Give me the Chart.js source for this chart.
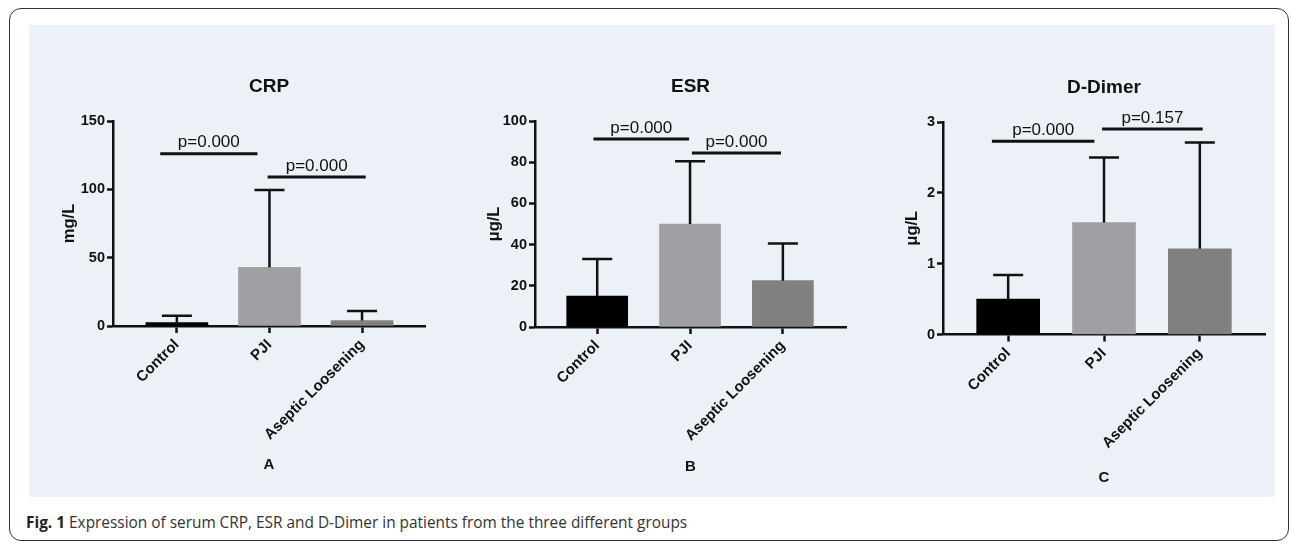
<!DOCTYPE html>
<html>
<head>
<meta charset="utf-8">
<script src="https://cdn.jsdelivr.net/npm/chart.js@4.4.1/dist/chart.umd.min.js"></script>
<style>
  body { margin: 0; background: #fff; width: 1292px; height: 544px; position: relative; overflow: hidden; }
  #frame { position: absolute; left: 9px; top: 8px; width: 1278px; height: 531px; border: 1.5px solid #333; border-radius: 12px; }
  #panel { position: absolute; left: 29px; top: 25px; width: 1246px; height: 472px; background: #ecf1f8; }
  canvas { position: absolute; top: 25px; }
  #cap { position: absolute; left: 26px; top: 512px; font: 15.4px "Open Sans", sans-serif; color: #333; white-space: nowrap; }
  #cap b { color: #222; }
</style>
</head>
<body>
<div id="frame"></div>
<div id="panel"></div>
<canvas id="crp" width="400" height="472" style="left:40px"></canvas>
<canvas id="esr" width="400" height="472" style="left:460px"></canvas>
<canvas id="dd" width="405" height="472" style="left:870px"></canvas>
<div id="cap"><b>Fig. 1</b> Expression of serum CRP, ESR and D-Dimer in patients from the three different groups</div>
<script>
// groups and colours
const groups = ['Control', 'PJI', 'Aseptic Loosening'];
const barColors = ['#000000', '#a09fa4', '#808080'];

// CRP (mg/L)
const crpMean = [2.5, 43, 4];
const crpSD = [5, 56.5, 7];
const crpTicks = [0, 50, 100, 150];
const crpPText = ['p=0.000', 'p=0.000'];
const crpPLevel = [126, 109];
const crpPSpan = [[-0.18, 0.87], [0.98, 2.04]];

// ESR
const esrMean = [15, 50, 22.5];
const esrSD = [18, 30.5, 18];
const esrTicks = [0, 20, 40, 60, 80, 100];
const esrPText = ['p=0.000', 'p=0.000'];
const esrPLevel = [91.3, 84.5];
const esrPSpan = [[-0.04, 0.99], [1.02, 1.98]];

// D-Dimer
const ddMean = [0.5, 1.58, 1.21];
const ddSD = [0.34, 0.92, 1.5];
const ddTicks = [0, 1, 2, 3];
const ddPText = ['p=0.000', 'p=0.157'];
const ddPLevel = [2.73, 2.9];
const ddPSpan = [[-0.17, 0.9], [0.98, 2.03]];

const ink = '#111';
Chart.defaults.font.family = '"Liberation Sans", Arial, sans-serif';

function makeChart(id, o) {
  // SD whiskers and the p-value brackets
  const extras = {
    id: 'extras',
    afterDatasetsDraw(chart) {
      const ctx = chart.ctx, x = chart.scales.x, y = chart.scales.y;
      ctx.save();
      ctx.strokeStyle = ink;
      ctx.lineWidth = 2.5;
      chart.getDatasetMeta(0).data.forEach((bar, i) => {
        const top = y.getPixelForValue(o.mean[i] + o.sd[i]);
        ctx.beginPath();
        ctx.moveTo(bar.x, bar.y);
        ctx.lineTo(bar.x, top);
        ctx.moveTo(bar.x - 15, top);
        ctx.lineTo(bar.x + 15, top);
        ctx.stroke();
      });
      ctx.lineWidth = 3;
      ctx.fillStyle = ink;
      ctx.font = '17px "Liberation Sans", Arial';
      ctx.textAlign = 'center';
      ctx.textBaseline = 'middle';
      o.pSpan.forEach((s, i) => {
        const py = y.getPixelForValue(o.pLevel[i]);
        const x1 = x.getPixelForValue(s[0]), x2 = x.getPixelForValue(s[1]);
        ctx.beginPath();
        ctx.moveTo(x1, py);
        ctx.lineTo(x2, py);
        ctx.stroke();
        ctx.fillText(o.pText[i], (x1 + x2) / 2, py - 11);
      });
      ctx.restore();
    }
  };

  return new Chart(document.getElementById(id), {
    type: 'bar',
    data: {
      datasets: [{
        data: o.mean.map((v, i) => ({ x: i, y: v })),
        backgroundColor: barColors,
        borderWidth: 0,
        barThickness: o.barW
      }]
    },
    options: {
      responsive: false,
      animation: false,
      devicePixelRatio: 1,
      layout: { padding: { left: 0, right: o.padR, top: 0, bottom: 0 } },
      plugins: {
        legend: { display: false },
        tooltip: { enabled: false },
        title: {
          display: true, text: o.title, fullSize: false, color: ink,
          font: { size: 19, weight: 'bold' },
          padding: { top: o.titleTop, bottom: o.chartTop - o.titleTop - 22.8 }
        }
      },
      scales: {
        x: {
          type: 'linear', min: o.xMin, max: o.xMax, offset: false,
          afterBuildTicks: s => { s.ticks = groups.map((g, i) => ({ value: i })); },
          afterFit: s => { s.height = o.xH; },
          ticks: {
            callback: v => groups[v], autoSkip: false, minRotation: 45, maxRotation: 45,
            color: ink, font: { size: 15, weight: 'bold' }, padding: 3
          },
          grid: { offset: false, drawOnChartArea: false, tickLength: 7, tickWidth: 2.5, tickColor: ink },
          border: { color: ink, width: 2.5 },
          title: {
            display: true, text: o.letter, color: ink,
            font: { size: 15, weight: 'bold' }, padding: { top: 0, bottom: o.letterPad }
          }
        },
        y: {
          min: 0, max: o.ticks[o.ticks.length - 1],
          afterBuildTicks: s => { s.ticks = o.ticks.map(v => ({ value: v })); },
          afterFit: s => { s.width = o.yW; },
          ticks: { color: ink, font: { size: 14.5, weight: 'bold' }, padding: 2 },
          grid: { drawOnChartArea: false, tickLength: 6, tickWidth: 2.5, tickColor: ink },
          border: { color: ink, width: 2.5 },
          title: {
            display: true, text: o.unit, color: ink,
            font: { size: 16.5, weight: 'bold' }, padding: { top: o.unitPad, bottom: 0 }
          }
        }
      }
    },
    plugins: [extras]
  });
}

makeChart('crp', {
  title: 'CRP', unit: 'mg/L', letter: 'A',
  mean: crpMean, sd: crpSD, ticks: crpTicks,
  pText: crpPText, pLevel: crpPLevel, pSpan: crpPSpan,
  xMin: -0.69, xMax: 2.68, barW: 62,
  yW: 73, padR: 15, chartTop: 96, xH: 171, titleTop: 50.6, unitPad: 20, letterPad: 23
});

makeChart('esr', {
  title: 'ESR', unit: 'μg/L', letter: 'B',
  mean: esrMean, sd: esrSD, ticks: esrTicks,
  pText: esrPText, pLevel: esrPLevel, pSpan: esrPSpan,
  xMin: -0.67, xMax: 2.68, barW: 61,
  yW: 75, padR: 14, chartTop: 96, xH: 170, titleTop: 50.6, unitPad: 25, letterPad: 21
});

makeChart('dd', {
  title: 'D-Dimer', unit: 'μg/L', letter: 'C',
  mean: ddMean, sd: ddSD, ticks: ddTicks,
  pText: ddPText, pLevel: ddPLevel, pSpan: ddPSpan,
  xMin: -0.68, xMax: 2.68, barW: 63,
  yW: 73, padR: 10, chartTop: 97, xH: 162.5, titleTop: 51.6, unitPad: 33, letterPad: 10
});
</script>
</body>
</html>
